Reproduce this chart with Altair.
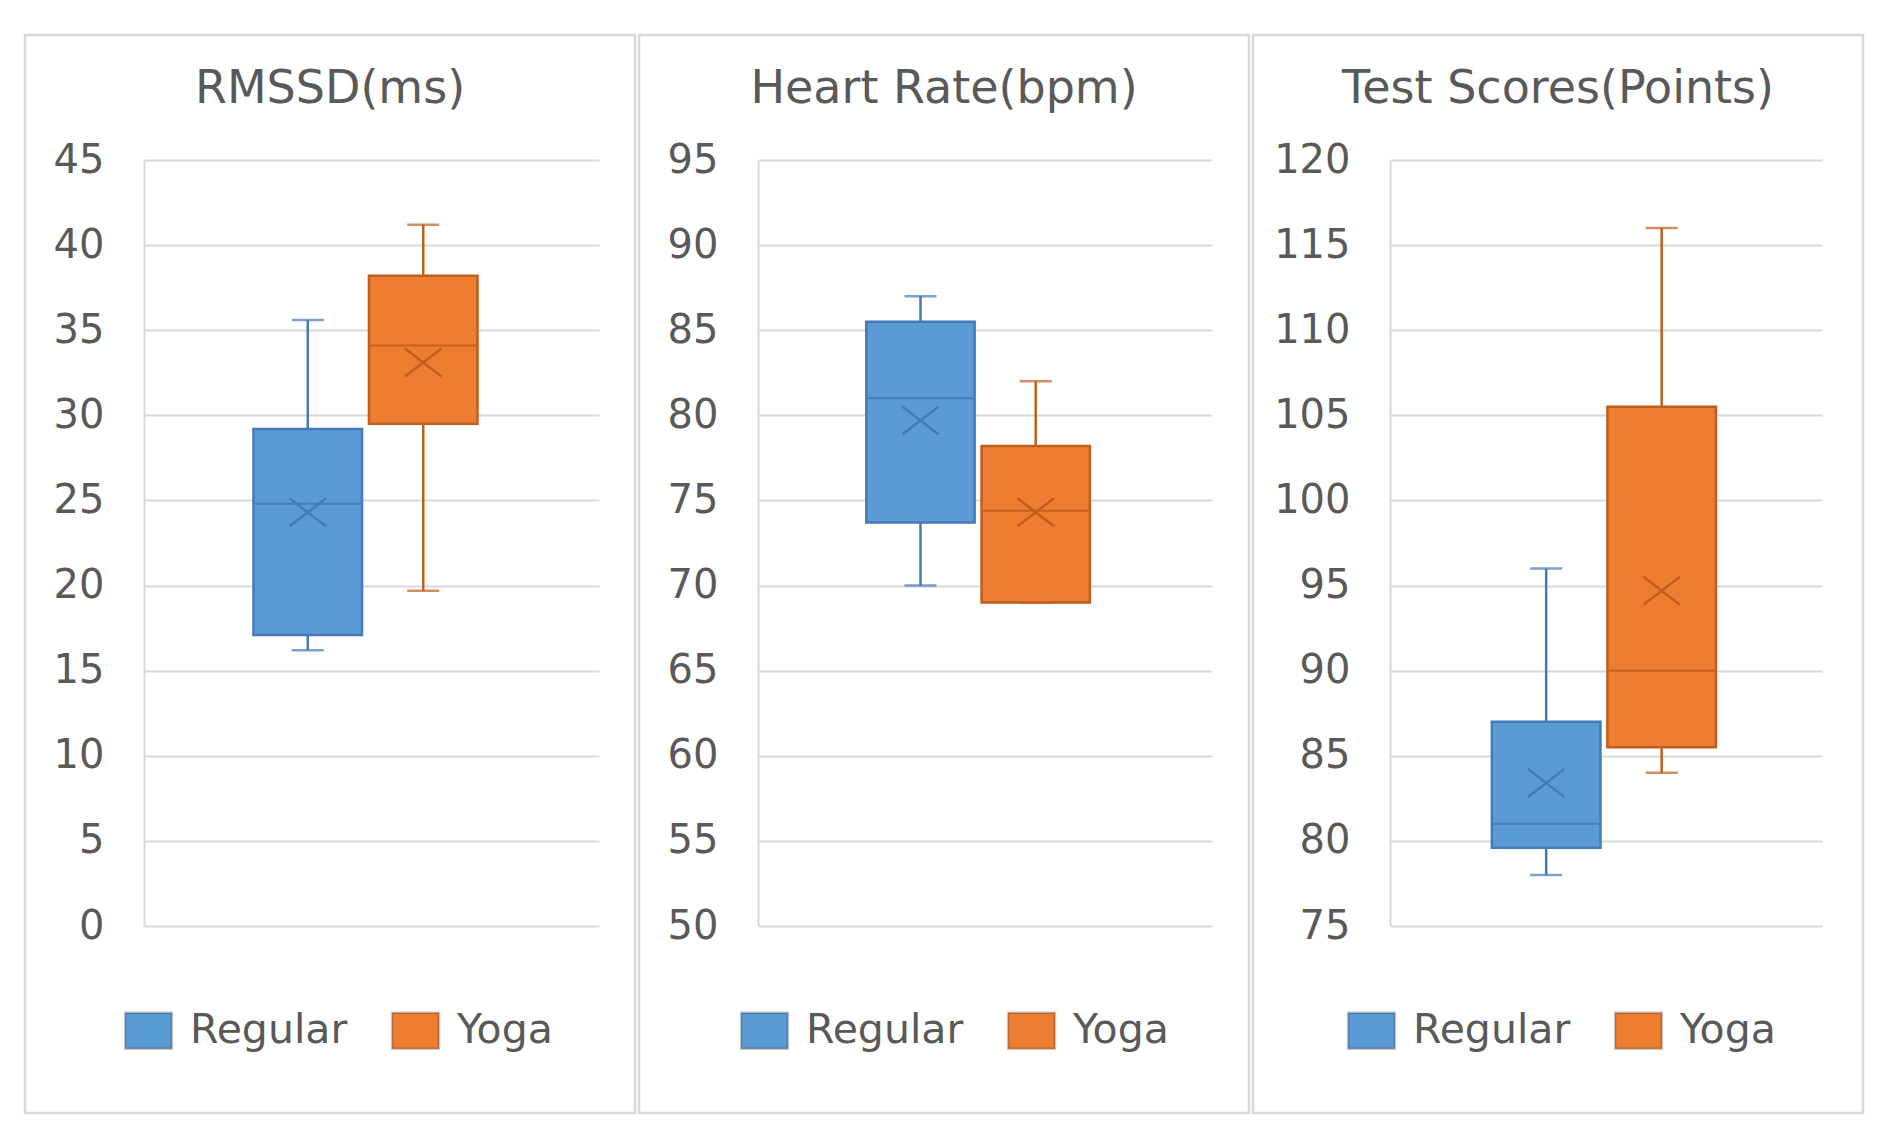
import altair as alt
import pandas as pd

groups = ["Regular", "Yoga"]
fill_colors = ["#5B9BD5", "#ED7D31"]
line_colors = ["#4579B8", "#C15E1E"]

titles = ["RMSSD(ms)", "Heart Rate(bpm)", "Test Scores(Points)"]

rmssd_min = [16.2, 19.7]
rmssd_q1 = [17.1, 29.5]
rmssd_med = [24.8, 34.1]
rmssd_q3 = [29.2, 38.2]
rmssd_max = [35.6, 41.2]
rmssd_mean = [24.3, 33.1]
rmssd_ticks = [0, 5, 10, 15, 20, 25, 30, 35, 40, 45]

hr_min = [70.0, 69.0]
hr_q1 = [73.7, 69.0]
hr_med = [81.0, 74.4]
hr_q3 = [85.5, 78.2]
hr_max = [87.0, 82.0]
hr_mean = [79.7, 74.3]
hr_ticks = [50, 55, 60, 65, 70, 75, 80, 85, 90, 95]

ts_min = [78.0, 84.0]
ts_q1 = [79.6, 85.5]
ts_med = [81.0, 90.0]
ts_q3 = [87.0, 105.5]
ts_max = [96.0, 116.0]
ts_mean = [83.4, 94.7]
ts_ticks = [75, 80, 85, 90, 95, 100, 105, 110, 115, 120]

FONT = "DejaVu Sans"
TXT = "#595959"
PANEL_W = 610
PANEL_H = 1078
X_MARK = "M-1.3,-1L1.3,1M1.3,-1L-1.3,1"
SWATCH = "M-1.3,-1L1.3,-1L1.3,1L-1.3,1Z"


def panel(title, mins, q1s, meds, q3s, maxs, means, ticks, xrange, align, pad_outer,
          legend_x):
    df = pd.DataFrame({
        "group": groups, "mn": mins, "q1": q1s, "med": meds,
        "q3": q3s, "mx": maxs, "mean": means,
    })
    base = alt.Chart(df)
    xenc = alt.X("group:N", axis=None,
                 scale=alt.Scale(domain=groups, range=xrange, align=align,
                                 paddingInner=0.06, paddingOuter=pad_outer))
    yscale = alt.Scale(domain=[ticks[0], ticks[-1]], range=[891, 125],
                       nice=False, zero=False)
    yaxis = alt.Axis(values=ticks, offset=-xrange[0], title=None,
                     labelPadding=40, ticks=False, grid=True)
    leg = alt.Legend(orient="none", legendX=legend_x, legendY=975,
                     direction="horizontal", title=None, padding=0,
                     labelFont=FONT, labelFontSize=41, labelColor=TXT,
                     labelOffset=21, columnPadding=39,
                     symbolType=SWATCH, symbolSize=1296,
                     symbolStrokeColor="rgba(0,0,0,0.22)",
                     symbolStrokeWidth=2.5, symbolOpacity=1)
    color = alt.Color("group:N", scale=alt.Scale(domain=groups, range=fill_colors),
                      legend=leg)
    stroke = alt.Stroke("group:N", scale=alt.Scale(domain=groups, range=line_colors),
                        legend=None)
    fill = alt.Fill("group:N", scale=alt.Scale(domain=groups, range=line_colors),
                    legend=None)

    lower = base.mark_rule(strokeWidth=2.5).encode(
        x=xenc, y=alt.Y("mn:Q", scale=yscale, axis=yaxis), y2="q1:Q", stroke=stroke)
    upper = base.mark_rule(strokeWidth=2.5).encode(
        x=xenc, y=alt.Y("q3:Q", scale=yscale, axis=yaxis), y2="mx:Q", stroke=stroke)
    box = base.mark_bar(strokeWidth=2.5).encode(
        x=xenc, y=alt.Y("q1:Q", scale=yscale, axis=yaxis), y2="q3:Q",
        color=color, stroke=stroke)
    median = base.mark_tick(size=106, thickness=2, opacity=0.9).encode(
        x=xenc, y=alt.Y("med:Q", scale=yscale, axis=yaxis), fill=fill)
    cap_lo = base.mark_tick(size=32, thickness=2.5).encode(
        x=xenc, y=alt.Y("mn:Q", scale=yscale, axis=yaxis), fill=fill)
    cap_hi = base.mark_tick(size=32, thickness=2.5).encode(
        x=xenc, y=alt.Y("mx:Q", scale=yscale, axis=yaxis), fill=fill)
    mean = base.mark_point(shape=X_MARK, size=784, filled=False, strokeWidth=2.5,
                           opacity=1).encode(
        x=xenc, y=alt.Y("mean:Q", scale=yscale, axis=yaxis), stroke=stroke)

    return alt.layer(box, lower, upper, median, cap_lo, cap_hi, mean).properties(
        width=PANEL_W, height=PANEL_H,
        title=alt.TitleParams(title, fontSize=46, font=FONT, color=TXT,
                              fontWeight="normal", anchor="middle", frame="group",
                              offset=-114, baseline="alphabetic"),
    )


p1 = panel(titles[0], rmssd_min, rmssd_q1, rmssd_med, rmssd_q3, rmssd_max, rmssd_mean,
           rmssd_ticks, [119, 574], 0.474, 1.0, 103)
p2 = panel(titles[1], hr_min, hr_q1, hr_med, hr_q3, hr_max, hr_mean,
           hr_ticks, [119, 573], 0.47, 1.0, 105)
p3 = panel(titles[2], ts_min, ts_q1, ts_med, ts_q3, ts_max, ts_mean,
           ts_ticks, [137, 569], 0.49, 0.9, 98)

chart = alt.hconcat(p1, p2, p3, spacing=0).resolve_scale(
    x="independent", y="independent"
).resolve_legend(
    color="independent"
).configure_view(
    stroke="#d9d9d9", strokeWidth=2.5
).configure_axis(
    labelFont=FONT, labelFontSize=40, labelColor=TXT,
    gridColor="#d9d9d9", gridWidth=2,
    domainColor="#d9d9d9", domainWidth=2,
).properties(
    padding={"left": 15, "top": 25, "right": 5, "bottom": 5},
    background="white",
)

chart.save("out.html", embed_options={"renderer": "svg", "actions": False})
